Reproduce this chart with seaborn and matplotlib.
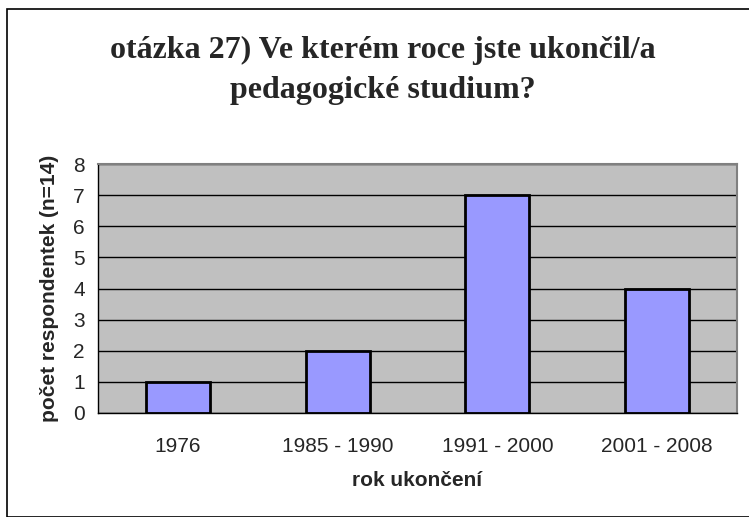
import matplotlib
matplotlib.use("Agg")
import matplotlib.pyplot as plt
import seaborn as sns
import pandas as pd

categories = ["1976", "1985 - 1990", "1991 - 2000", "2001 - 2008"]
counts = [1, 2, 7, 4]
y_ticks = [0, 1, 2, 3, 4, 5, 6, 7, 8]

df = pd.DataFrame({"rok": categories, "pocet": counts})

sns.set_style("white")
plt.rcParams['font.family'] = ['Liberation Sans', 'DejaVu Sans']

fig = plt.figure(figsize=(7.49, 5.17), dpi=100)
ax = fig.add_axes([98 / 749, 1 - 413 / 517, 639 / 749, 249 / 517])

sns.barplot(data=df, x="rok", y="pocet", ax=ax, color="#9999ff",
            width=0.4, edgecolor="black", linewidth=2, saturation=1)

ax.set_facecolor("#c0c0c0")
ax.set_ylim(0, 8)
ax.set_yticks(y_ticks)
ax.yaxis.grid(True, color="black", linewidth=1)
ax.set_axisbelow(True)
for s in ["top", "right"]:
    ax.spines[s].set_color("#808080")
    ax.spines[s].set_linewidth(1.5)
for s in ["left", "bottom"]:
    ax.spines[s].set_color("black")
    ax.spines[s].set_linewidth(1)

ax.set_xticks([0.5, 1.5, 2.5], minor=True)
ax.tick_params(axis="x", which="major", length=0, pad=17, labelsize=15)
ax.tick_params(axis="x", which="minor", length=4.5, direction="out", color="black")
ax.tick_params(axis="y", length=4.5, direction="out", color="black", labelsize=15, pad=5)
ax.set_xlim(-0.5, 3.5)

ax.set_xlabel("rok ukončení", fontsize=15, fontweight="bold", labelpad=11)
ax.set_ylabel("počet respondentek (n=14)", fontsize=15, fontweight="bold", labelpad=10)

fig.text(383 / 749, 1 - 70 / 517,
         "otázka 27) Ve kterém roce jste ukončil/a\npedagogické studium?",
         ha="center", va="center", fontsize=23, fontweight="bold",
         family=["Liberation Serif", "DejaVu Serif"], linespacing=1.5)

fig.patches.append(plt.Rectangle((7 / 749, 0), 1, 1 - 9 / 517, transform=fig.transFigure,
                                 fill=False, edgecolor="black", linewidth=1.2))

fig.savefig("out.png", dpi=100)
